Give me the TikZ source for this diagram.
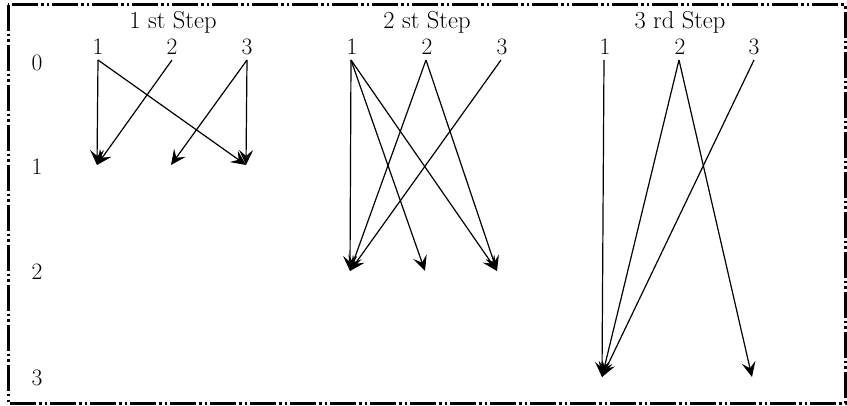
\documentclass[tikz,border=0pt]{standalone}
\usepackage{fontspec}
\usetikzlibrary{arrows.meta}
\begin{document}
\begin{tikzpicture}[x=1pt,y=-1pt,
  lbl/.style={font=\fontsize{23.5}{26}\selectfont, inner sep=0pt},
  ttl/.style={font=\fontsize{24.5}{28}\selectfont, inner sep=0pt},
  flow/.style={line width=1.2pt, -{Stealth[length=15pt,width=14pt,inset=6pt]}},
  frame/.style={line width=3pt, dash pattern=on 26pt off 3pt on 2.5pt off 3pt on 2.5pt off 3pt}
]
\useasboundingbox (0,0) rectangle (847,406);
\draw[frame] (8,5) rectangle (845,403);

% level labels on the left
\node[lbl] (r0) at (37,63) {0};
\node[lbl] (r1) at (37,167) {1};
\node[lbl] (r2) at (37,272) {2};
\node[lbl] (r3) at (37,378) {3};

% step titles
\node[ttl] (t1) at (173,22) {1 st Step};
\node[ttl] (t2) at (427,22) {2 st Step};
\node[ttl] (t3) at (680,22) {3 rd Step};

% column labels
\foreach \n/\x in {1/98,2/172,3/247} \node[lbl] (pa\n) at (\x,47) {\n};
\foreach \n/\x in {1/352,2/427,3/502} \node[lbl] (pb\n) at (\x,47) {\n};
\foreach \n/\x in {1/605,2/680,3/754} \node[lbl] (pc\n) at (\x,47) {\n};

% start points (level 0)
\coordinate (sa1) at (98,60);  \coordinate (sa2) at (172,60);  \coordinate (sa3) at (247,60);
\coordinate (sb1) at (351,60); \coordinate (sb2) at (426,60);  \coordinate (sb3) at (501,60);
\coordinate (sc1) at (604,60); \coordinate (sc2) at (679,60);  \coordinate (sc3) at (754,60);

% end points
\coordinate (ea1) at (97,165);  \coordinate (ea2) at (171,165); \coordinate (ea3) at (246,165);
\coordinate (eb1) at (350,271); \coordinate (eb2) at (425,271); \coordinate (eb3) at (497,271);
\coordinate (ec1) at (602,377); \coordinate (ec3) at (752,377);

% step 1
\draw[flow] (sa1) -- (ea1);
\draw[flow] (sa2) -- (ea1);
\draw[flow] (sa1) -- (ea3);
\draw[flow] (sa3) -- (ea3);
\draw[flow] (sa3) -- (ea2);

% step 2
\draw[flow] (sb1) -- (eb1);
\draw[flow] (sb1) -- (eb2);
\draw[flow] (sb1) -- (eb3);
\draw[flow] (sb2) -- (eb1);
\draw[flow] (sb2) -- (eb3);
\draw[flow] (sb3) -- (eb1);

% step 3
\draw[flow] (sc1) -- (ec1);
\draw[flow] (sc2) -- (ec1);
\draw[flow] (sc2) -- (ec3);
\draw[flow] (sc3) -- (ec1);
\end{tikzpicture}
\end{document}
